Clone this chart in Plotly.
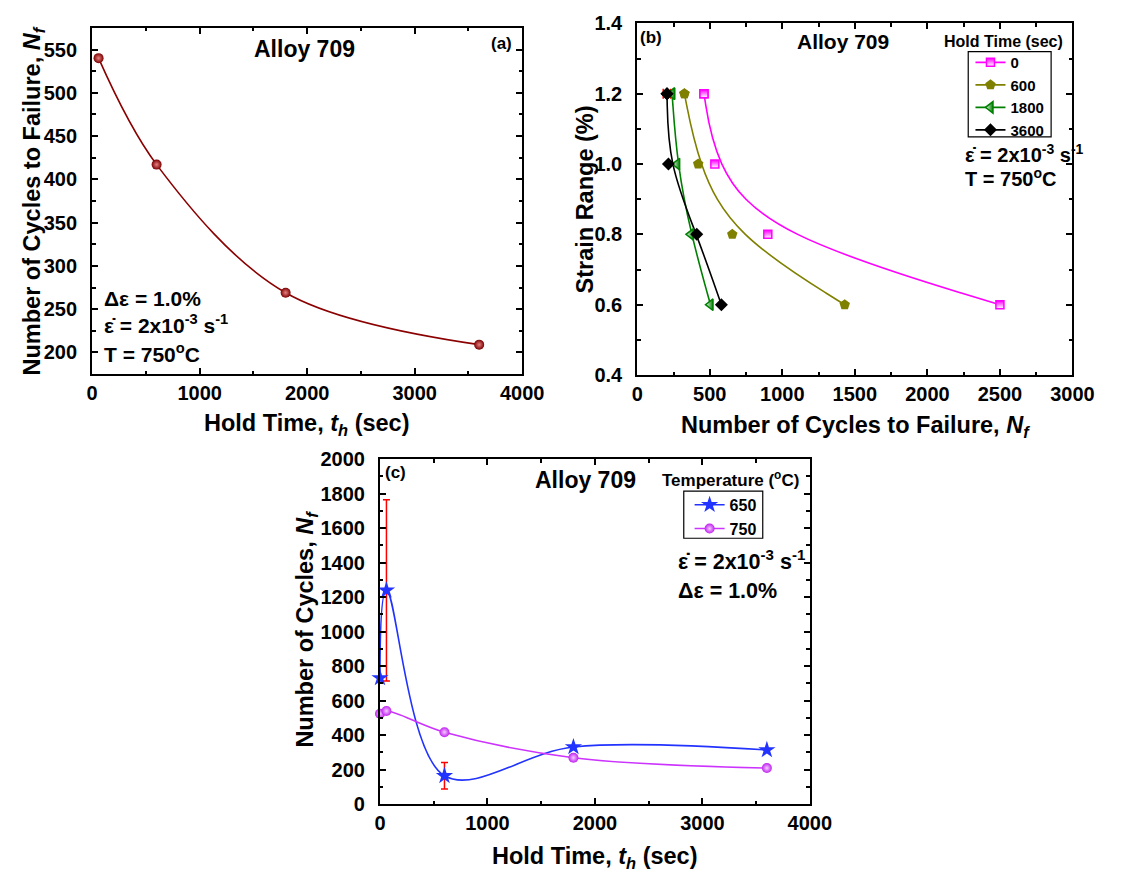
import plotly.graph_objects as go

FONT = "Liberation Sans"
W, H = 1129, 886

# ---- (a) Alloy 709 at 750 C, strain range 1.0 % ----
hold_a = [60, 600, 1800, 3600]
cycles_a = [540, 417, 269, 209]

# ---- (b) strain range vs. cycles to failure for each hold time ----
strain_range = [1.2, 1.0, 0.8, 0.6]
hold_names = ["0", "600", "1800", "3600"]
cycles_h0 = [460, 535, 900, 2500]
cycles_h600 = [325, 420, 655, 1430]
cycles_h1800 = [240, 275, 370, 505]
cycles_h3600 = [205, 215, 410, 580]
cycles_h3600_err = [26, None, None, None]

# ---- (c) cycles vs. hold time at two temperatures ----
hold_c = [0, 60, 600, 1800, 3600]
temp_names = ["650", "750"]
cycles_650 = [731, 1239, 164, 331, 314]
cycles_650_err = [None, 525, 77, None, None]
cycles_750 = [524, 540, 417, 269, 209]


def px_x(x):
    return x / W


def px_y(y):
    return 1 - y / H


def axis(rng, dtick, minor_dtick, dom, anchor, fmt=None, horizontal=True):
    lo, hi = dom
    domain = [px_x(lo), px_x(hi)] if horizontal else [px_y(hi), px_y(lo)]
    d = dict(
        range=rng, tick0=0, dtick=dtick, domain=domain, anchor=anchor,
        showline=True, linecolor="black", linewidth=2, mirror="ticks",
        ticks="inside", ticklen=6, tickwidth=2, tickcolor="black",
        minor=dict(dtick=minor_dtick, ticks="inside", ticklen=3.5,
                   tickwidth=1.5, tickcolor="black", showgrid=False),
        showgrid=False, zeroline=False,
        ticklabelstandoff=0 if horizontal else 9,
        tickfont=dict(family=FONT, size=20, color="black", weight="bold"),
    )
    if fmt:
        d["tickformat"] = fmt
    return d


A_X, A_Y = (88.3, 529.3), (17.3, 372.3)
B_X, B_Y = (647.3, 1093.6), (12.7, 373.3)
C_X, C_Y = (383.5, 824.3), (459.5, 813.3)

fig = go.Figure()

# (a)
fig.add_trace(go.Scatter(
    x=hold_a, y=cycles_a, mode="lines+markers", xaxis="x", yaxis="y",
    line=dict(color="#8B0000", width=1.6, shape="spline", smoothing=1),
    marker=dict(symbol="circle", size=10, color="#7A0000",
                gradient=dict(type="radial", color="#E88080"),
                line=dict(width=0)),
    showlegend=False, cliponaxis=False,
))

# (b) marker styles per hold time
b_series = [
    (hold_names[0], cycles_h0, "#FF00FF",
     dict(symbol="square", size=8, color="#FF00FF",
          gradient=dict(type="vertical", color="white"),
          line=dict(color="#FF00FF", width=1.5))),
    (hold_names[1], cycles_h600, "#808000",
     dict(symbol="pentagon", size=11, color="#808000", line=dict(width=0))),
    (hold_names[2], cycles_h1800, "#008000",
     dict(symbol="triangle-left", size=10, color="white",
          gradient=dict(type="horizontal", color="#008000"),
          line=dict(color="#008000", width=1.5))),
    (hold_names[3], cycles_h3600, "#000000",
     dict(symbol="diamond", size=10, color="black", line=dict(width=0))),
]


def bspline_path(xs, ys):
    """Uniform cubic B-spline (end points tripled) written as Bezier pieces."""
    pts = list(zip(xs, ys))
    ctrl = [pts[0]] * 2 + pts + [pts[-1]] * 2
    path = f"M{ctrl[0][0]:.4f},{ctrl[0][1]:.4f}"
    for i in range(len(ctrl) - 3):
        a, b, c, d = ctrl[i:i + 4]
        b1 = ((2 * b[0] + c[0]) / 3, (2 * b[1] + c[1]) / 3)
        b2 = ((b[0] + 2 * c[0]) / 3, (b[1] + 2 * c[1]) / 3)
        b3 = ((b[0] + 4 * c[0] + d[0]) / 6, (b[1] + 4 * c[1] + d[1]) / 6)
        path += (f" C{b1[0]:.4f},{b1[1]:.4f} {b2[0]:.4f},{b2[1]:.4f}"
                 f" {b3[0]:.4f},{b3[1]:.4f}")
    return path


for name, xs, col, mk in b_series:
    fig.add_shape(type="path", path=bspline_path(xs, strain_range),
                  xref="x2", yref="y2", layer="below",
                  line=dict(color=col, width=1.6))

err_idx = [i for i, e in enumerate(cycles_h3600_err) if e is not None]
fig.add_trace(go.Scatter(
    x=[cycles_h3600[i] for i in err_idx], y=[strain_range[i] for i in err_idx],
    mode="markers", xaxis="x2", yaxis="y2",
    marker=dict(size=1, color="rgba(0,0,0,0)"),
    error_x=dict(type="data", array=[cycles_h3600_err[i] for i in err_idx],
                 color="#FF0000", thickness=1.5, width=5),
    showlegend=False, cliponaxis=False,
))

for name, xs, col, mk in b_series:
    fig.add_trace(go.Scatter(
        x=xs, y=strain_range, mode="markers", xaxis="x2", yaxis="y2",
        marker=mk, showlegend=False, cliponaxis=False,
    ))
    # legend entry (single point, so no connecting line is drawn in the plot)
    fig.add_trace(go.Scatter(
        x=xs[:1], y=strain_range[:1], mode="lines+markers", name=name,
        xaxis="x2", yaxis="y2", legend="legend",
        line=dict(color=col, width=1.6), marker=mk, cliponaxis=False,
    ))

# (c)
err_idx = [i for i, e in enumerate(cycles_650_err) if e is not None]
fig.add_trace(go.Scatter(
    x=[hold_c[i] for i in err_idx], y=[cycles_650[i] for i in err_idx],
    mode="markers", xaxis="x3", yaxis="y3",
    marker=dict(size=1, color="rgba(0,0,0,0)"),
    error_y=dict(type="data", array=[cycles_650_err[i] for i in err_idx],
                 color="#FF0000", thickness=1.5, width=3.5),
    showlegend=False, cliponaxis=False,
))
fig.add_trace(go.Scatter(
    x=hold_c, y=cycles_650, mode="lines+markers", name=temp_names[0],
    xaxis="x3", yaxis="y3", legend="legend2",
    line=dict(color="#2233FF", width=1.6, shape="spline", smoothing=1),
    marker=dict(symbol="star", size=13, color="#2233FF", line=dict(width=0)),
    cliponaxis=False,
))
fig.add_trace(go.Scatter(
    x=hold_c, y=cycles_750, mode="lines+markers", name=temp_names[1],
    xaxis="x3", yaxis="y3", legend="legend2",
    line=dict(color="#CC33FF", width=1.6, shape="spline", smoothing=1),
    marker=dict(symbol="circle", size=10, color="#C020F0",
                gradient=dict(type="radial", color="#F6CCFF"),
                line=dict(width=0)),
    cliponaxis=False,
))


def note(x, y, text, size=21, anchor="left", angle=0):
    fig.add_annotation(
        x=px_x(x), y=px_y(y), xref="paper", yref="paper", text=text,
        showarrow=False, xanchor=anchor, yanchor="middle", textangle=angle,
        font=dict(family=FONT, size=size, color="black", weight="bold"),
    )


# strain rate: epsilon with a combining dot above
EPS_DOT = "\u03b5\u0307 = 2x10<sup>-3</sup> s<sup>-1</sup>"


def legend_box(x0, y0, x1, y1):
    fig.add_shape(type="rect", xref="paper", yref="paper",
                  x0=px_x(x0), x1=px_x(x1), y0=px_y(y1), y1=px_y(y0),
                  line=dict(color="black", width=1.2), layer="above")


# axis titles
note(28, 195, "Number of Cycles to Failure, <i>N<sub>f</sub></i>", 23.5, "center", -90)
note(309, 424, "Hold Time, <i>t<sub>h</sub></i> (sec)", 23.5, "center")
note(594, 193, "Strain Range (%)", 23.5, "center", -90)
note(871, 426, "Number of Cycles to Failure, <i>N<sub>f</sub></i>", 23.5, "center")
note(308, 634, "Number of Cycles, <i>N<sub>f</sub></i>", 23.5, "center", -90)
note(604, 868, "Hold Time, <i>t<sub>h</sub></i> (sec)", 23.5, "center")

# (a) labels
note(306, 38.5, "Alloy 709", 23, "center")
note(508, 33, "(a)", 17, "center")
note(98.7, 295, "\u0394\u03b5 = 1.0%", 21)
note(98.7, 321, EPS_DOT, 21)
note(98.7, 351, "T = 750<sup>o</sup>C", 21)

# (b) labels
note(661.7, 26.7, "(b)", 17, "center")
note(858, 31.7, "Alloy 709", 21, "center")
note(1023, 31, "Hold Time (sec)", 16, "center")
legend_box(986.7, 41.7, 1071.7, 129)
note(981.7, 146, EPS_DOT, 20)
note(981.7, 171, "T = 750<sup>o</sup>C", 20)

# (c) labels
note(399, 473.3, "(c)", 17, "center")
note(594.5, 480.5, "Alloy 709", 23, "center")
note(742.7, 480, "Temperature (<sup>o</sup>C)", 17, "center")
legend_box(695, 492.3, 776, 540.7)
note(686.7, 563, EPS_DOT, 21.5)
note(686.7, 595, "\u0394\u03b5 = 1.0%", 21.5)

fig.update_layout(
    width=W, height=H, margin=dict(l=0, r=0, t=0, b=0),
    paper_bgcolor="white", plot_bgcolor="white",
    font=dict(family=FONT, color="black"),
    xaxis=axis([0, 4000], 1000, 500, A_X, "y"),
    yaxis=axis([175, 575], 50, 25, A_Y, "x", horizontal=False),
    xaxis2=axis([0, 3000], 500, 250, B_X, "y2"),
    yaxis2=axis([0.4, 1.4], 0.2, 0.1, B_Y, "x2", fmt=".1f", horizontal=False),
    xaxis3=axis([0, 4000], 1000, 500, C_X, "y3"),
    yaxis3=axis([0, 2000], 200, 100, C_Y, "x3", horizontal=False),
    legend=dict(x=px_x(989), y=px_y(36), xanchor="left", yanchor="top",
                borderwidth=0, bgcolor="rgba(0,0,0,0)",
                font=dict(family=FONT, size=15, color="black", weight="bold"),
                itemwidth=30, tracegroupgap=0),
    legend2=dict(x=px_x(701), y=px_y(489), xanchor="left", yanchor="top",
                 borderwidth=0, bgcolor="rgba(0,0,0,0)",
                 font=dict(family=FONT, size=16, color="black", weight="bold"),
                 itemwidth=30, tracegroupgap=0),
)

fig.write_html("out.html")
